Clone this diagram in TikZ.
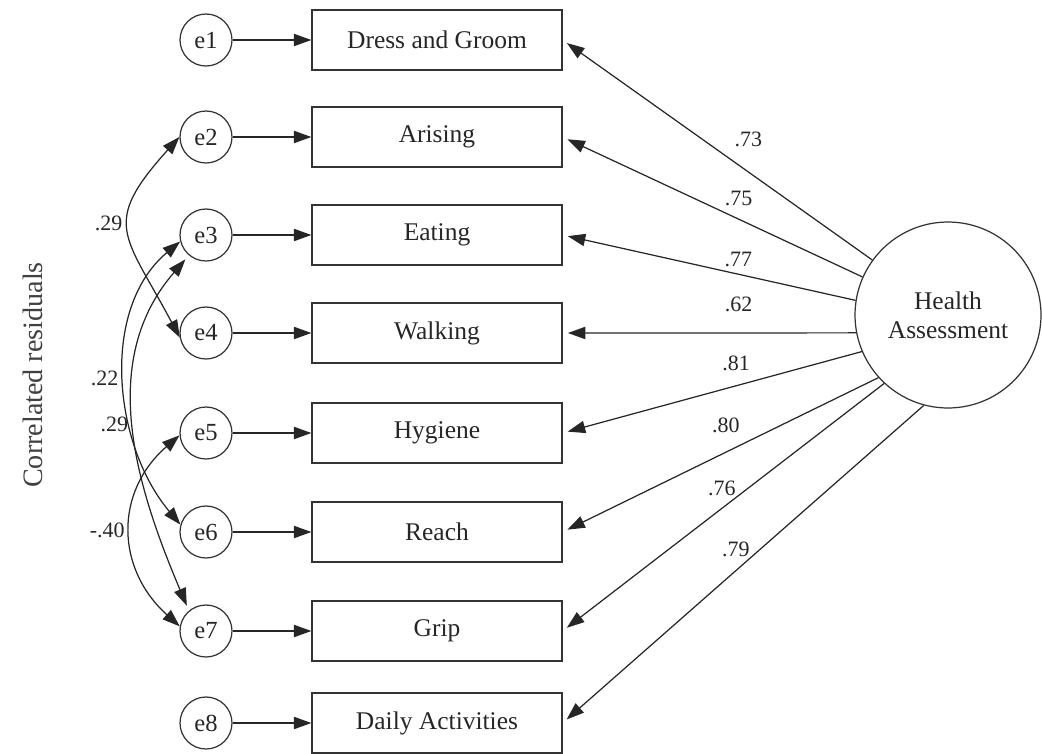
\documentclass[tikz,border=0pt]{standalone}
\usepackage{fontspec}
\setmainfont{Liberation Serif}
\usepackage{tikz}
\usetikzlibrary{arrows.meta}

\begin{document}
\begin{tikzpicture}[x=0.02cm, y=0.02cm]
    \tikzstyle{resid}=[circle, draw=black!80, line width=0.7pt,
            minimum size=1.04cm, inner sep=0pt, text=black!85,
            font=\fontsize{14}{16}\selectfont]
    \tikzstyle{indicator}=[rectangle, draw=black!80, line width=0.7pt,
            minimum width=5cm, minimum height=1.2cm, text=black!85,
            font=\fontsize{14.5}{17}\selectfont]
    \tikzstyle{factor}=[circle, draw=black!80, line width=0.7pt,
            minimum size=3.72cm, inner sep=0pt, align=center,
            text=black!85, font=\fontsize{14.5}{16.5}\selectfont]
    \tikzstyle{coef}=[text=black!85, font=\fontsize{12.5}{14}\selectfont]
    \tikzstyle{path}=[black!85, line width=0.7pt,
            -{Triangle[length=10pt, width=7pt]}]
    \tikzstyle{cov}=[black!85, line width=0.7pt,
            {Triangle[length=10pt, width=7pt]}-{Triangle[length=10pt, width=7pt]}]

    \useasboundingbox (0,0) rectangle (1042,-754);

        \foreach \t/\y/\lab in {1/40/Dress and Groom, 2/137/Arising,
            3/235/Eating, 4/333/Walking, 5/433/Hygiene, 6/532/Reach,
            7/631/Grip, 8/723/Daily Activities}
        {
            \node[resid] (e\t) at (206,-\y) {e\t};
            \node[indicator] (b\t) at (437,-\y) {\lab};
            \draw[path] (e\t) -- (b\t);
        }

        \node[factor] (ha) at (948,-315) {Health\\Assessment};

        \node[rotate=90, text=black!75, font=\fontsize{16}{18}\selectfont]
            (cr) at (33,-375) {Correlated residuals};

        \foreach \t/\a/\p/\s/\h/\w in {1/144/0.40/18.7/0/.73,
            2/156/0.413/12/0/.75, 3/171/0.40/8.5/0/.77, 4/191/0.40/16/0/.62,
            5/203/0.42/12.8/0/.81, 6/222/0.483/15/0/.80,
            7/227/0.505/11.2/0/.76, 8/255/0.501/8.7/-4/.79}
        {
            \draw[path, shorten >=3pt] (ha.\a) -- (b\t.east)
            node[coef, pos=\p, yshift=\s pt, xshift=\h pt] {\w};
        }

        % correlated residuals
        \draw[cov] (e2.180) to[out=228, in=118, looseness=1.5]
            node[coef, left, pos=0.45] {.29} (e4.190);
        \draw[cov] (e3.194) to[out=220, in=130, looseness=0.95]
            node[coef, left] {.22} (e6.164);
        \draw[cov, shorten <=3pt, shorten >=3pt] (e3.230) to[out=229, in=113]
            node[coef, left] {.29} (e7.130);
        \draw[cov] (e5.185) to[out=221, in=138, looseness=1.16]
            node[coef, left] {-.40} (e7.170);
    \end{tikzpicture}
\end{document}
